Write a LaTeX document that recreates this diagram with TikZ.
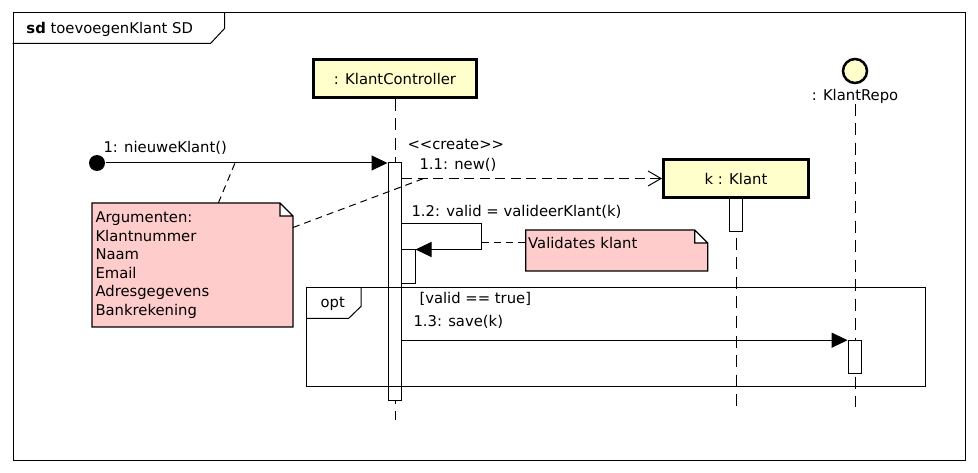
\documentclass[tikz,border=0pt]{standalone}
\usepackage{fontspec}
\setmainfont{DejaVu Sans}
\usetikzlibrary{arrows.meta,backgrounds}
\definecolor{headyellow}{RGB}{255,255,204}
\definecolor{notepink}{RGB}{255,204,204}

\begin{document}
\begin{tikzpicture}[x=1pt, y=-1pt, line width=1pt,
    font=\fontsize{14.8pt}{18.5pt}\selectfont,
    lifehead/.style={draw, line width=3pt, fill=headyellow, inner sep=0pt},
    actbar/.style={draw, fill=white, minimum width=13.5pt, inner sep=0pt},
    lifeline/.style={dash pattern=on 12pt off 7.5pt},
    msgline/.style={-{Triangle[length=16pt,width=15pt]}},
    createline/.style={dash pattern=on 10pt off 5.5pt, -{Straight Barb[length=13pt,width=15pt]}},
    noteline/.style={dash pattern=on 7pt off 5pt},
    noteshape/.style={draw=black, line width=1.2pt, fill=notepink},
    txt/.style={inner sep=0pt, anchor=west},
    notebox/.style={anchor=north west, align=left}]
  \useasboundingbox (0,0) rectangle (978,473);

  \node[draw, minimum width=952pt, minimum height=447pt, inner sep=0pt] (sd) at (489,236.5) {};
  \draw ([xshift=212pt]sd.north west) -- ++(0,16) -- ++(-14,15) -- ++(-198,0);
  \node[txt] (title) at (26,29.5) {\textbf{sd} toevoegenKlant SD};

  \node[lifehead, minimum width=163pt, minimum height=38pt] (ctrl) at (395,78.5) {: KlantController};
  \node[lifehead, minimum width=145pt, minimum height=38pt] (klant) at (736,178.5) {k : Klant};
  \node[circle, draw, line width=2.5pt, fill=headyellow, minimum size=24pt, inner sep=0pt] (repo) at (855,71) {};
  \node[inner sep=0pt] (repolabel) at (855,96) {: KlantRepo};

  \coordinate (ctrlend) at (395,420);
  \coordinate (klantend) at (736,407);
  \coordinate (repoend) at (855,407);
  \draw[lifeline] (ctrl.south) -- (ctrlend);
  \draw[lifeline] (klant.south) -- (klantend);
  \draw[lifeline] (repolabel.south) -- (repoend);

  \node[actbar, minimum height=237.5pt] (ctrlbar) at (394.75,281.75) {};
  \node[actbar, minimum height=34pt] (subbar) at (408.25,267) {};
  \node[actbar, minimum height=33pt] (klantbar) at (736,215.5) {};
  \node[actbar, minimum height=32.3pt] (repobar) at (854.85,356.85) {};

  \node[draw, minimum width=618.3pt, minimum height=98pt, inner sep=0pt] (opt) at (615.85,337) {};
  \draw ([xshift=55pt]opt.north west) -- ++(0,18.7) -- ++(-12.7,12.3) -- ++(-42.3,0);
  \node[inner sep=0pt] (optlabel) at (332.7,304) {opt};

  \node[circle, fill=black, minimum size=16pt, inner sep=0pt] (found) at (97,163) {};
  \draw[msgline] (found) -- (found -| ctrlbar.west);
  \node[txt] (l1) at (103,148) {1: nieuweKlant()};

  \draw[createline] (ctrlbar.east |- klant.west) -- (klant.west);
  \node[txt] (lcreate) at (407,144) {{<}{<}create{>}{>}};
  \node[txt] (l11) at (419,165) {1.1: new()};

  \coordinate (selfturn) at (481.5,224);
  \draw[msgline] (ctrlbar.east |- selfturn) -- (selfturn) |- (subbar.north east);
  \node[txt] (l12) at (411,212) {1.2: valid = valideerKlant(k)};

  \draw[msgline] (ctrlbar.east |- repobar.north) -- (repobar.north west);
  \node[txt] (guard) at (419,299) {[valid == true]};
  \node[txt] (l13) at (413,321.7) {1.3: save(k)};

  \node[notebox, text width=194pt, inner xsep=3pt, inner ysep=0pt, minimum height=123pt] (args) at (92,203)
    {Argumenten:\\Klantnummer\\Naam\\Email\\Adresgegevens\\Bankrekening};
  \node[notebox, text width=177pt, inner xsep=2pt, inner ysep=2pt, text height=16pt, text depth=20pt] (valnote) at (525.7,230)
    {Validates klant};
  \begin{scope}[on background layer]
    \foreach \n in {args,valnote}
      \draw[noteshape] (\n.south west) -- (\n.north west) -- ([xshift=-13pt]\n.north east)
        -- ([yshift=-13pt]\n.north east) -- (\n.south east) -- cycle
        ([xshift=-13pt]\n.north east) |- ([yshift=-13pt]\n.north east);
  \end{scope}

  \coordinate (onmsg1) at (235,163);
  \coordinate (onmsg11) at (425,178);
  \coordinate (onself) at (481.5,243);
  \draw[noteline] (args) -- (onmsg1);
  \draw[noteline] (args) -- (onmsg11);
  \draw[noteline] (onself) -- (onself -| valnote.west);
\end{tikzpicture}
\end{document}
